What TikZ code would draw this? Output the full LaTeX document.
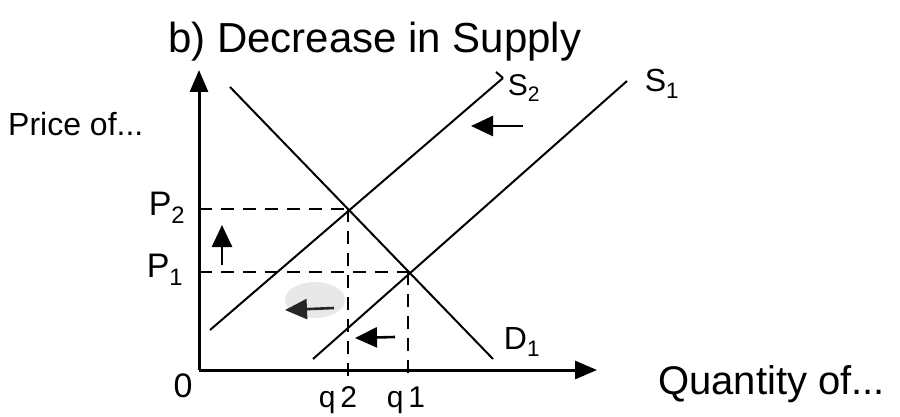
\documentclass[tikz,border=0pt]{standalone}
\usepackage{fontspec}
\setmainfont{Liberation Sans}
\usetikzlibrary{arrows.meta}
\tikzset{
  axis/.style={line width=3pt,-{Triangle[length=22pt,width=18pt]}},
  curve/.style={line width=2pt},
  guide/.style={line width=1.8pt,dash pattern=on 13pt off 9pt},
  shiftarrow/.style={line width=2.6pt,-{Triangle[length=22pt,width=20pt]}},
  lbl/.style={font=\fontsize{30}{32}\selectfont,inner sep=0pt},
}
\begin{document}
\begin{tikzpicture}[x=1pt,y=-1pt]
\useasboundingbox (0,0) rectangle (900,417);
% key points
\coordinate (O) at (199,370);
\coordinate (ytop) at (199,70);
\coordinate (xend) at (597,370);
\coordinate (Dtop) at (230,87);
\coordinate (Dbot) at (493,359);
\coordinate (S2a) at (210,330);
\coordinate (S2b) at (503,78);
\coordinate (S1a) at (313,359);
\coordinate (S1b) at (627,81);
\coordinate (E2) at (348,209);
\coordinate (E1) at (408,272);
\coordinate (P2y) at (199,209);
\coordinate (P1y) at (199,272);
\coordinate (q2x) at (348,376);
\coordinate (q1x) at (408,376);
% smudge
\fill[gray!30,opacity=0.6] (315,300) ellipse (30 and 18);
% axes
\draw[axis] (O) -- (ytop);
\draw[axis] (O) -- (xend);
% curves
\draw[curve] (Dtop) -- (Dbot);
\draw[curve] (S2a) -- (S2b);
\draw[curve] (S1a) -- (S1b);
\draw[curve] (S2b) -- ++(-7,-6);
% guides
\draw[guide] (P2y) -- (E2);
\draw[guide] (E2) -- (q2x);
\draw[guide] (P1y) -- (E1);
\draw[guide] (E1) -- (q1x);
% shift arrows
\coordinate (a1s) at (523,126); \coordinate (a1e) at (471,126);
\coordinate (a2s) at (222,265); \coordinate (a2e) at (222,225);
\coordinate (a3s) at (334,308); \coordinate (a3e) at (285,310);
\coordinate (a4s) at (395,337); \coordinate (a4e) at (355,338);
\draw[shiftarrow] (a1s) -- (a1e);
\draw[shiftarrow] (a2s) -- (a2e);
\draw[shiftarrow,draw=black!85] (a3s) -- (a3e);
\draw[shiftarrow] (a4s) -- (a4e);
% labels
\node[lbl,font=\fontsize{42}{44}\selectfont,anchor=west] (title) at (168,42) {b) Decrease in Supply};
\node[lbl,font=\fontsize{32}{34}\selectfont,anchor=west] (price) at (8,124) {Price of...};
\node[lbl,font=\fontsize{40}{42}\selectfont,anchor=west] (qty) at (658,384) {Quantity of...};
\node[lbl,font=\fontsize{34}{36}\selectfont] (p2) at (167,208) {P\textsubscript{2}};
\node[lbl,font=\fontsize{34}{36}\selectfont] (p1) at (165,270) {P\textsubscript{1}};
\node[lbl,font=\fontsize{34}{36}\selectfont] (zero) at (183,386) {0};
\node[lbl] (q2) at (338,400) {q\,2};
\node[lbl] (q1) at (406,400) {q\,1};
\node[lbl,font=\fontsize{32}{34}\selectfont] (d1) at (522,342) {D\textsubscript{1}};
\node[lbl] (s2) at (524,88) {S\textsubscript{2}};
\node[lbl,font=\fontsize{32}{34}\selectfont] (s1) at (662,84) {S\textsubscript{1}};
\end{tikzpicture}
\end{document}
